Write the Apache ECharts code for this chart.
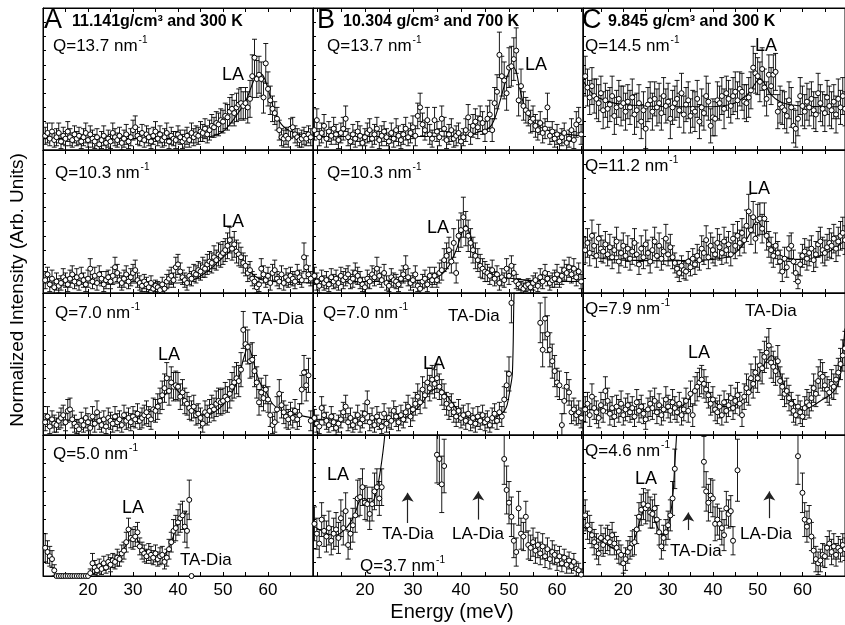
<!DOCTYPE html>
<html><head><meta charset="utf-8">
<script src="https://cdn.jsdelivr.net/npm/echarts@6/dist/echarts.min.js"></script>
<style>html,body{margin:0;padding:0;background:#fff}#c{width:845px;height:625px}</style>
</head><body><div id="c"></div>
<script>
// ---------- tick labels / categories ----------
const xTickLabels = [20, 30, 40, 50, 60];
const xTicks = [10, 15, 20, 25, 30, 35, 40, 45, 50, 55, 60, 65, 70];
const colLetters = ['A', 'B', 'C'];
const colTitles = ['11.141g/cm³ and 300 K', '10.304 g/cm³ and 700 K', '9.845 g/cm³ and 300 K'];
const qValues = ['13.7', '13.7', '14.5', '10.3', '10.3', '11.2', '7.0', '7.0', '7.9', '5.0', '3.7', '4.6'];
const startEnergy = [10.5, 9.5, 11.5]; // first measured energy per column (meV), 0.5 meV steps
const energyStep = 0.5;

// ---------- Row 1 ----------
const A1_y = [10,12,8,13,7,9,12,6,10, 8,13,9,7,11,8,10,6,9,12, 7,11,8,6,9,4,7,10,5,8, 6,12,9,7,10,5,8,11,6,9, 14,16,10,8,12,7,11,9,6,10, 13,8,11,7,9,12,6,10,8,7, 11,9,6,8,10,7,12,9,11,10, 13,12,15,11,14,17,16,19,18,21, 20,24,23,27,29,26,30,32,33,31, 33,30,36,52,65,50,53,50,37,61, 43,35,29,26,22,14,9,8,10,8, 15,16,11,9,7,8,10,8,11,9];
const A1_err = [6,7,5,6,5,6,7,5,6, 5,7,6,5,6,5,6,5,6,7, 5,6,6,5,6,5,6,7,5,6, 5,7,6,5,6,5,6,7,5,6, 7,8,6,5,6,5,6,6,5,6, 7,5,6,5,6,7,5,6,5,6, 6,5,5,6,6,5,7,6,6,6, 7,6,7,6,7,8,7,8,8,8, 8,9,9,10,10,9,10,11,11,10, 11,11,13,15,13,13,13,12,11,14, 12,10,9,8,8,7,6,6,6,6, 7,7,6,6,5,6,6,5,6,6];
const A1_fitE = [10,20,30,40,45,48,50,52,54,55,56,57,58,59,60,61,62,63,64,66,68,70];
const A1_fitV = [8,8,8,8,9,10,13,20,29,34,42,50,54,52,43,32,23,18,15,12,10,9];

const B1_y = [14,21,9,12,17,8,13,10,15,11, 7,12,15,22,9,6,11,8,13,10, 5,9,12,14,8,11,15,7,10,13, 9,6,12,8,14,10,7,11,15,9, 12,16,10,24,30,18,14,21,11,8, 21,13,9,22,15,7,11,14,8,10, 12,6,9,14,23,11,17,20,16,22, 19,13,22,25,14,33,41,67,52,49, 40,58,59,64,70,35,45,31,28,26, 20,22,17,14,19,12,15,30,10,13, 8,11,6,9,12,5,8,14,7,18, 21,11];
const B1_err = [7,8,6,7,8,6,7,6,8,7, 6,7,8,9,6,6,7,6,7,7, 6,6,7,8,6,7,8,6,7,7, 6,6,7,6,8,7,6,7,8,6, 7,8,7,9,10,8,7,9,7,6, 9,7,6,9,8,6,7,8,6,7, 7,6,6,8,9,7,8,9,8,9, 8,7,9,10,8,11,12,16,14,13, 12,14,14,15,16,11,12,10,9,9, 8,9,8,7,8,7,7,10,6,7, 6,7,6,6,7,6,6,8,6,9, 9,7];
const B1_fitE = [9.2,20,30,40,42,44,46,47,48,49,50,50.7,51.5,52,53,54,55,56,58,60,62,65.4];
const B1_fitV = [9.5,9.5,9.5,10,11,13,16,22,33,45,55,59,55,47,33,25,20,17,14,12,11,10];

const C1_y = [52,44,37,45,38,36,33,40,28,35, 29,32,38,24,30,36,31,33,27,34, 30,37,25,28,33,20,28,15,32,35, 27,36,30,33,26,38,31,34,22,30, 33,36,28,40,25,32,35,24,29,27, 36,20,30,26,38,34,17,23,22,35, 33,38,29,40,36,31,38,41,35,43, 41,34,33,37,42,58,54,52,48,57, 44,36,53,45,53,55,27,32,30,28, 24,35,30,17,15,22,38,31,27,34, 30,36,28,25,40,33,29,26,37,31, 28,34,25,36,30,38,29];
const C1_err = [14,13,12,13,12,14,13,12,13,12, 13,12,14,13,12,13,14,12,13,12, 12,13,14,12,13,12,13,14,12,13, 13,12,13,14,12,13,12,13,14,12, 12,13,12,14,13,12,13,12,13,14, 13,12,13,12,14,13,12,13,12,13, 12,13,14,12,13,12,13,14,13,12, 13,12,13,14,13,15,14,13,14,15, 13,12,14,13,14,13,12,13,12,13, 12,13,14,12,13,12,13,14,12,13, 13,12,13,12,14,13,12,13,12,14, 13,12,13,14,12,13,12];
const C1_fitE = [11,12,13,14,16,18,20,25,30,40,44,46,48,49.5,50.5,51.5,53,55,57,60,65,69.5];
const C1_fitV = [49,44,40,37.5,35,33,32,31,30.5,30.5,32,35,40,47,50.5,47,39,34,32,31,30.5,30.5];

// ---------- Row 2 ----------
const A2_y = [9,13,6,10,4,8,5,7,11, 9,6,10,13,8,11,7,12,9,6, 10,17,8,12,7,13,10,6,9,11, 8,12,18,14,9,7,10,13,8,11, 14,16,9,7,5,8,6,4,7,3, 5,4,2,6,3,8,10,12,9,18, 20,15,11,9,7,12,10,14,13,16, 15,18,17,20,22,21,25,23,27,26, 28,30,33,37,31,34,29,27,25,21, 19,14,16,10,8,4,6,17,13,9, 12,7,14,16,10,8,13,7,11,9, 12,10,8,14,11,9,25,18,13,10];
const A2_err = [6,5,5,6,5,6,5,5,6, 5,5,6,6,5,6,5,6,5,5, 6,7,5,6,5,6,5,5,6,5, 5,6,7,6,5,5,6,6,5,6, 6,7,5,5,4,5,5,4,5,4, 4,4,4,5,4,5,6,6,5,7, 7,6,5,5,5,6,5,6,6,6, 6,7,6,7,7,7,8,7,8,8, 8,8,9,9,8,9,8,8,7,7, 7,6,6,5,5,4,5,7,6,5, 6,5,6,7,5,5,6,5,6,5, 6,5,5,6,5,5,10,8,6,5];
const A2_fitE = [10,20,30,40,42,44,46,48,50,51.5,52.3,53.5,55,56,58,60,65,70];
const A2_fitV = [7,7,7,7,8,10,14,19,25,29,31,28,20,15,10,8.5,7.5,7];

const B2_y = [12,8,5,10,7,9,6,11,8,10, 7,12,9,11,13,8,10,14,12,9, 6,4,10,8,13,11,17,12,9,14, 7,5,11,9,8,6,10,13,18,11, 7,9,13,5,3,8,10,6,12,9, 12,9,14,16,23,26,30,22,35,14, 40,44,53,45,40,35,30,26,23,19, 17,15,14,12,16,10,13,7,11,9, 17,12,19,14,8,6,4,3,5,6, 4,7,9,5,11,8,14,10,7,9, 10,13,9,12,16,14,18,13,17,11, 15,8];
const B2_err = [6,6,5,6,5,6,5,6,5,6, 5,6,6,6,6,5,6,7,6,6, 5,4,6,5,6,6,8,6,5,6, 5,4,6,5,5,5,6,6,8,6, 5,5,6,4,4,5,6,5,6,5, 6,5,7,7,8,9,9,8,10,7, 11,12,14,12,11,10,9,9,8,8, 7,7,6,6,7,5,6,5,6,5, 7,6,7,6,5,4,4,4,4,4, 4,5,5,4,6,5,6,5,5,5, 6,7,5,6,7,6,7,6,7,6, 6,5];
const B2_fitE = [9.2,20,30,34,36,37.5,39,40,41,42,43,44,46,48,52,56,65.4];
const B2_fitV = [8,8,8.5,10,13,19,30,40,47.6,40,28,20,14,11.5,9.5,8.5,8];

const C2_y = [30,35,28,40,33,26,38,31,29,34, 27,32,25,30,36,22,28,33,26,31, 24,29,35,27,20,31,25,34,28,22, 30,36,26,33,24,29,38,27,32,25, 21,17,14,19,16,15,22,18,24,20, 26,23,31,28,37,25,33,30,27,35, 32,28,36,30,34,27,38,33,40,35, 42,37,47,57,44,53,38,51,52,45, 52,40,34,30,26,33,28,22,15,24, 18,31,33,22,14,8,20,26,29,24, 28,31,23,27,34,36,30,28,32,35, 33,38,31,36,40,42,37];
const C2_err = [9,10,9,11,9,8,10,9,8,9, 8,9,8,9,10,8,9,9,8,9, 8,9,10,8,7,9,8,10,9,8, 9,10,8,9,8,9,10,8,9,8, 7,6,6,7,6,6,7,6,7,7, 8,7,9,8,10,8,9,9,8,10, 9,8,10,9,9,8,10,9,10,9, 10,9,11,12,10,11,10,11,11,10, 11,10,9,9,8,9,8,8,7,8, 7,9,9,8,6,5,8,8,9,8, 9,9,8,9,9,10,9,9,9,10, 9,10,9,10,10,11,10];
const C2_fitE = [11,12,14,16,20,30,40,44,46,48,49.8,51,52.5,54,56,58,62,64,66,68,69.5];
const C2_fitV = [30,28,25,24,23,22.5,23.5,26,31,40,50,46,36,29,25,23.5,24,26,29,33,37];

// ---------- Row 3 ----------
const A3_y = [9,13,6,11,8,7,10,12,14, 9,17,18,11,8,6,4,10,7,12, 9,5,13,8,16,10,7,11,6,12, 10,8,13,9,11,7,14,10,12,9, 13,11,15,10,12,14,16,13,11,18, 17,20,24,28,33,40,31,37,34,35, 34,27,30,24,22,19,17,20,14,15, 12,8,16,14,17,20,18,22,24,23, 24,27,25,29,34,37,40,38,46,74, 64,62,52,53,45,37,23,30,26,32, 25,14,7,9,18,29,21,16,13,11, 15,12,17,11,14,32,44,35,42,10];
const A3_err = [6,7,5,6,6,5,6,7,7, 6,8,8,6,6,5,5,6,5,7, 6,5,7,6,8,6,5,6,5,7, 6,6,7,6,6,5,7,6,7,6, 7,6,7,6,7,7,8,7,7,8, 8,9,9,10,10,11,10,11,10,10, 10,9,9,9,8,8,7,8,7,7, 7,6,8,7,8,8,8,9,9,9, 9,10,9,10,10,11,11,11,12,13, 12,12,12,12,11,11,9,10,9,10, 9,8,6,7,9,10,9,8,8,7, 8,7,8,7,8,10,12,11,12,7];
const A3_fitE = [10,20,30,33,35,37,39,41,43,45,46.5,48,50,52,53.5,54.5,55.6,56.5,57.5,58.5,59.7,61,63,66.7,70];
const A3_fitV = [10.6,10.6,12,15,20,28,33,27,19,15,14,16,21,30,40,53,62,55,43,35,29.6,22,17,14,12];

const B3_y = [12,8,6,19,14,10,7,13,9,5, 8,11,16,20,9,12,7,10,14,8, 11,15,23,9,12,7,13,10,6,15, 8,12,10,17,13,9,14,11,16,20, 13,18,22,27,23,32,28,37,33,39, 36,40,34,30,27,22,19,21,16,13, 17,12,14,10,15,9,12,8,13,10, 14,9,11,7,12,15,10,16,13,25, 35,43,93,null,null,null,null,null,null,null, null,null,null,null,79,60,82,71,60,52, 45,37,35,7,24,34,30,16,18,14, 16,12];
const B3_err = [6,6,5,8,7,6,5,7,6,5, 6,6,7,8,6,7,5,6,7,6, 6,7,8,6,7,5,7,6,5,7, 6,7,6,7,7,6,7,6,7,8, 7,8,8,9,8,9,9,10,9,10, 10,10,9,9,9,8,8,8,7,7, 8,7,7,6,7,6,7,6,7,6, 7,6,6,5,7,7,6,7,7,9, 10,12,14,0,0,0,0,0,0,0, 0,0,0,0,14,12,15,13,12,12, 11,10,10,8,9,10,9,8,8,7, 8,7];
const B3_fitE = [9.2,20,28,30,32,33.5,35.4,37,39,41,44,46,48,49,49.6,50.2,50.7,51,51.2];
const B3_fitV = [10.6,10.6,12,16,23,30,33,28,19,13,10.6,11,14,17,21,32,43.5,93,120];

const C3_y = [18,22,14,27,19,16,12,21,17,31, 24,15,19,13,20,17,22,14,18,21, 16,19,13,23,17,20,15,11,18,22, 19,24,16,21,14,18,25,20,17,23, 19,16,22,14,18,24,17,29,14,31, 34,37,39,36,32,28,22,25,18,16, 20,14,23,17,21,26,19,24,28,22, 14,27,33,30,40,36,44,40,49,47, 55,58,63,51,48,45,52,38,34,29, 31,26,22,17,14,20,16,13,19,23, 21,26,33,29,38,43,41,35,32,30, 36,34,39,44,50,56,61];
const C3_err = [9,8,8,9,8,8,7,9,8,10, 9,8,8,7,8,8,9,7,8,8, 7,8,7,9,8,8,7,7,8,9, 8,9,8,8,7,8,9,8,8,9, 8,7,8,7,8,9,8,9,8,10, 10,10,10,10,9,9,8,9,8,8, 8,7,8,8,8,9,8,9,9,8, 8,9,10,9,10,10,11,10,11,11, 11,11,12,11,11,10,11,10,9,9, 9,9,8,8,7,8,8,7,8,9, 9,9,10,9,10,10,10,9,9,9, 10,9,10,10,11,11,12];
const C3_fitE = [11,15,20,30,33,35,36.5,37.5,38.5,40,42,44,46,48,50,51.5,53.1,54.5,56,57.5,59,60.2,62,64,66,67.5,68.5,69.1,69.5];
const C3_fitV = [18,17.6,17.6,18,20,27,34,37.5,34,25,20,20,23,30,41,50,56,48,34,25,19.5,17.6,20,24,28,33,43,61,75];

// ---------- Row 4 ----------
const A4_y = [20,17,14,12,4,0,0,0,0, 0,0,0,0,0,0,0,0,0,0, 0,2,9,6,4,7,5,9,6,10, 8,11,10,13,12,16,18,24,33,27, 26,28,31,21,18,16,14,17,15,13, 16,12,14,15,10,13,19,24,32,34, 38,41,43,35,32,54,0];
const A4_err = [10,8,7,6,4,0,0,0,0, 0,0,0,0,0,0,0,0,0,0, 0,3,7,5,4,5,4,5,4,5, 5,5,5,6,5,6,6,7,8,7, 7,7,7,6,6,6,5,6,6,5, 6,5,6,6,5,6,7,7,8,9, 9,10,10,11,12,14,0];
const A4_fitE = [21,23,25,27,28.5,29.5,30.5,32,34,36,37.5,38.5,39.5,40.5,41.5,42];
const A4_fitV = [1,5,9,15,22,27,27,20,16,15,17,24,33,40,44,46];

const B4_y = [37,30,23,40,32,28,34,25,30,33, 27,41,34,46,22,30,36,43,55,56, 63,52,51,44,51,60,63,55,63,null, null,null,null,null,null,null,null,null,null,null, null,null,null,null,null,null,null,null,null,null, null,86,83,65,78,null,null,null,null,null, null,null,null,null,null,null,null,null,null,null, null,null,null,null,null,null,null,null,null,83, 61,52,42,25,17,48,30,28,42,22, 20,24,18,22,16,21,14,19,12,17, 15,11,14,9,13,8,11,7,10,5, 4,1];
const B4_err = [12,11,10,12,11,11,12,10,11,12, 11,13,12,13,10,11,12,12,13,13, 13,12,12,11,12,13,13,12,13,0, 0,0,0,0,0,0,0,0,0,0, 0,0,0,0,0,0,0,0,0,0, 0,20,18,20,19,0,0,0,0,0, 0,0,0,0,0,0,0,0,0,0, 0,0,0,0,0,0,0,0,0,18, 17,15,14,12,10,12,11,10,11,10, 9,10,9,9,8,9,8,8,7,8, 7,7,7,6,6,6,6,5,6,5, 5,4];
const B4_fitE = [9.5,11,12.5,14,15.5,17,18,19,20,21,22,23,24,24.3];
const B4_fitV = [35,32,29.5,29,32,38,45,54,55,52,55,70,95,110];
const B4_arrowE = [28.9, 43.6];
const B4_arrowFrom = [37.6, 40];
const B4_arrowTo = [59, 60];

const C4_y = [43,36,33,29,24,21,16,27,22,25, 27,24,29,23,20,17,15,9,12,17, 20,23,24,33,42,47,51,48,50,45, 44,48,40,31,21,27,31,36,43,55, 76,null,null,null,null,null,null,null,null,null, null,null,null,81,60,52,57,55,37,40, 37,34,29,48,44,46,25,null,75,null, null,null,null,null,null,null,null,null,null,null, null,null,null,null,null,null,null,null,null,null, null,null,null,null,null,85,null,59,40,35, 39,28,18,12,9,11,15,14,20,23, 17,21,15,20,18,22,19];
const C4_err = [11,10,10,9,9,9,8,9,8,9, 9,9,9,8,8,8,7,7,8,8, 8,9,9,10,10,11,11,11,11,11, 10,10,10,9,9,9,9,10,11,12, 14,0,0,0,0,0,0,0,0,0, 0,0,0,18,14,13,12,13,12,11, 11,12,11,12,10,11,10,0,22,0, 0,0,0,0,0,0,0,0,0,0, 0,0,0,0,0,0,0,0,0,0, 0,0,0,0,0,20,0,14,12,11, 11,10,9,9,8,8,8,8,8,9, 9,9,8,8,8,8,8];
const C4_fitE = [11,12,14,16,18,20,21,22,23,24,25.2,26,27,28,29,30,31,31.5,32,32.3];
const C4_fitV = [35,33,27,23,19,16,17,22,31,42,50,48,40,32,29,35,55,80,105,120];
const C4_arrowE = [34.5, 52.6];
const C4_arrowFrom = [32.6, 41];
const C4_arrowTo = [45, 60];

// ---------- assemble ----------
const panelY = [A1_y,B1_y,C1_y,A2_y,B2_y,C2_y,A3_y,B3_y,C3_y,A4_y,B4_y,C4_y];
const panelErr = [A1_err,B1_err,C1_err,A2_err,B2_err,C2_err,A3_err,B3_err,C3_err,A4_err,B4_err,C4_err];
const panelFitE = [A1_fitE,B1_fitE,C1_fitE,A2_fitE,B2_fitE,C2_fitE,A3_fitE,B3_fitE,C3_fitE,A4_fitE,B4_fitE,C4_fitE];
const panelFitV = [A1_fitV,B1_fitV,C1_fitV,A2_fitV,B2_fitV,C2_fitV,A3_fitV,B3_fitV,C3_fitV,A4_fitV,B4_fitV,C4_fitV];

const FONT = 'Liberation Sans, Arial, Helvetica, sans-serif';
const colLeft = [43, 313, 583], colW = [270, 270, 262];
const rowTop = [8, 150, 293, 435], rowH = [142, 143, 142, 141];
const xMin = [10, 9.2, 11], xMax = [70, 65.4, 69.5];

const grids = [], xAxes = [], yAxes = [], series = [];
for (let p = 0; p < 12; p++) {
  const r = Math.floor(p / 3), c = p % 3;
  grids.push({left: colLeft[c], top: rowTop[r], width: colW[c], height: rowH[r],
    show: true, borderColor: '#000', borderWidth: 1, backgroundColor: 'transparent'});
  const ticks = xTicks.filter(t => t >= xMin[c] && t <= xMax[c]);
  const common = {type: 'value', gridIndex: p, min: xMin[c], max: xMax[c],
    axisLine: {show: true, lineStyle: {color: '#000', width: 1}},
    axisTick: {show: true, inside: true, length: 4, customValues: ticks, lineStyle: {color: '#000'}},
    splitLine: {show: false}};
  xAxes.push(Object.assign({}, common, {position: 'bottom',
    axisLabel: r === 3 ? {show: true, customValues: xTickLabels, fontSize: 17, color: '#000', margin: 6, fontFamily: FONT} : {show: false}}));
  xAxes.push(Object.assign({}, common, {position: 'top', axisLabel: {show: false}}));
  yAxes.push({type: 'value', gridIndex: p, min: 0, max: 100, interval: 10,
    axisLine: {show: true, lineStyle: {color: '#000'}},
    axisTick: {show: true, inside: true, length: 3, lineStyle: {color: '#000'}},
    axisLabel: {show: false}, splitLine: {show: false}});

  const E = panelY[p].map((_, k) => startEnergy[c] + k * energyStep);
  const ys = panelY[p], er = panelErr[p];
  const errData = [], ptData = [];
  ys.forEach((v, k) => {
    if (v === null) return;
    ptData.push([E[k], v]);
    if (er[k] > 0) errData.push([E[k], v - er[k], v + er[k]]);
  });
  series.push({type: 'custom', xAxisIndex: 2 * p, yAxisIndex: p, clip: true, z: 2,
    data: errData, encode: {x: 0, y: [1, 2]}, silent: true,
    renderItem: function (params, api) {
      const x = api.value(0);
      const lo = api.coord([x, api.value(1)]);
      const hi = api.coord([x, api.value(2)]);
      const w = 2.5, st = {stroke: '#000', lineWidth: 0.9};
      return {type: 'group', children: [
        {type: 'line', shape: {x1: lo[0], y1: lo[1], x2: hi[0], y2: hi[1]}, style: st},
        {type: 'line', shape: {x1: lo[0] - w, y1: lo[1], x2: lo[0] + w, y2: lo[1]}, style: st},
        {type: 'line', shape: {x1: hi[0] - w, y1: hi[1], x2: hi[0] + w, y2: hi[1]}, style: st}
      ]};
    }});
  const fit = {type: 'line', xAxisIndex: 2 * p, yAxisIndex: p, z: 3, silent: true,
    data: panelFitE[p].map((e, k) => [e, panelFitV[p][k]]),
    smooth: 0.35, showSymbol: false, symbol: 'none', clip: true,
    lineStyle: {color: '#000', width: 1.1}};
  const arrows = p === 10 ? [B4_arrowE, B4_arrowFrom, B4_arrowTo] : p === 11 ? [C4_arrowE, C4_arrowFrom, C4_arrowTo] : null;
  if (arrows) {
    fit.markLine = {silent: true, symbol: ['none', 'arrow'], symbolSize: 9,
      label: {show: false}, lineStyle: {color: '#222', type: 'solid', width: 1.2},
      emphasis: {disabled: true},
      data: arrows[0].map((e, k) => [{coord: [e, arrows[1][k]]}, {coord: [e, arrows[2][k]]}])};
  }
  series.push(fit);
  series.push({type: 'scatter', xAxisIndex: 2 * p, yAxisIndex: p, z: 4, silent: true, clip: true,
    data: ptData, symbol: 'circle', symbolSize: 5,
    itemStyle: {color: '#fff', borderColor: '#000', borderWidth: 1, opacity: 1}});
}

// ---------- text annotations ----------
function txt(x, y, text, size, weight) {
  return {type: 'text', x: x, y: y, z: 100, silent: true,
    style: {text: text, fontSize: size, fontWeight: weight || 'normal', fontFamily: FONT, fill: '#000', textVerticalAlign: 'middle'}};
}
function qtxt(x, y, q) {
  return {type: 'text', x: x, y: y, z: 100, silent: true,
    style: {text: '{a|Q=' + q + ' nm}{s|-1}', fontFamily: FONT, fill: '#000', textVerticalAlign: 'middle',
      rich: {a: {fontSize: 17, fontFamily: FONT, lineHeight: 20, verticalAlign: 'bottom'},
             s: {fontSize: 10, fontFamily: FONT, lineHeight: 20, verticalAlign: 'top', padding: [0, 0, 0, 1]}}}};
}
const qPos = [[53,45],[327,45],[585,45],[55,172],[327,172],[585,165],[55,312],[323,312],[585,308],[53,453],[360,565],[585,450]];
const graphics = [];
qPos.forEach((pt, i) => graphics.push(qtxt(pt[0], pt[1], qValues[i])));
const letterX = [44, 317, 582], titleX = [72, 343, 608];
for (let c = 0; c < 3; c++) {
  graphics.push(txt(letterX[c], 21, colLetters[c], 27));
  graphics.push(txt(titleX[c], 22, colTitles[c], 16, 'bold'));
}
const laPos = [[222,75],[525,65],[755,46],[222,222],[427,228],[748,189],[158,355],[423,364],[688,353],[122,508],[327,475],[635,479]];
laPos.forEach(pt => graphics.push(txt(pt[0], pt[1], 'LA', 18)));
const taPos = [[252,319],[448,316],[745,311],[180,560],[382,534],[670,551]];
taPos.forEach(pt => graphics.push(txt(pt[0], pt[1], 'TA-Dia', 17)));
[[452,534],[740,534]].forEach(pt => graphics.push(txt(pt[0], pt[1], 'LA-Dia', 17)));
graphics.push({type: 'text', x: 18, y: 290, rotation: Math.PI / 2, z: 100, silent: true,
  style: {text: 'Normalized Intensity (Arb. Units)', fontSize: 19, fontFamily: FONT, fill: '#000', textAlign: 'center', textVerticalAlign: 'middle'}});
graphics.push({type: 'text', x: 452, y: 612, z: 100, silent: true,
  style: {text: 'Energy (meV)', fontSize: 20, fontFamily: FONT, fill: '#000', textAlign: 'center', textVerticalAlign: 'middle'}});

const chart = echarts.init(document.getElementById('c'), null, {renderer: 'canvas'});
chart.setOption({animation: false, backgroundColor: '#fff',
  grid: grids, xAxis: xAxes, yAxis: yAxes, series: series, graphic: graphics});
</script></body></html>
